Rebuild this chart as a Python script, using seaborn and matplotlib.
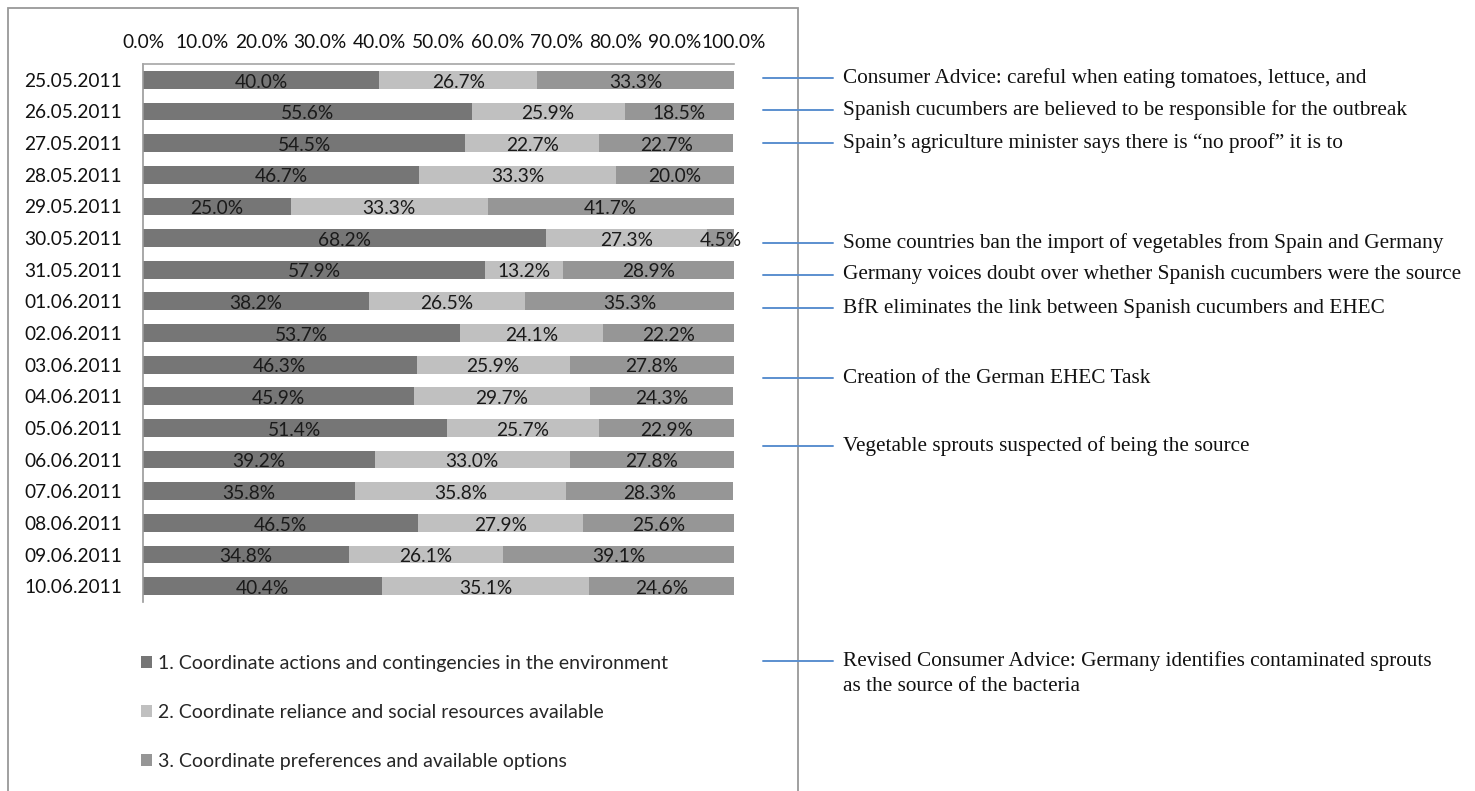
import matplotlib
matplotlib.use("Agg")
import matplotlib.pyplot as plt
import seaborn as sns
import pandas as pd
import numpy as np
from matplotlib.patches import Rectangle, Patch
from matplotlib.lines import Line2D

dates = ["25.05.2011", "26.05.2011", "27.05.2011", "28.05.2011", "29.05.2011",
         "30.05.2011", "31.05.2011", "01.06.2011", "02.06.2011", "03.06.2011",
         "04.06.2011", "05.06.2011", "06.06.2011", "07.06.2011", "08.06.2011",
         "09.06.2011", "10.06.2011"]
s1 = [40.0, 55.6, 54.5, 46.7, 25.0, 68.2, 57.9, 38.2, 53.7, 46.3, 45.9, 51.4, 39.2, 35.8, 46.5, 34.8, 40.4]
s2 = [26.7, 25.9, 22.7, 33.3, 33.3, 27.3, 13.2, 26.5, 24.1, 25.9, 29.7, 25.7, 33.0, 35.8, 27.9, 26.1, 35.1]
s3 = [33.3, 18.5, 22.7, 20.0, 41.7, 4.5, 28.9, 35.3, 22.2, 27.8, 24.3, 22.9, 27.8, 28.3, 25.6, 39.1, 24.6]
series_names = ["1. Coordinate actions and contingencies in the environment",
                "2. Coordinate reliance and social resources available",
                "3. Coordinate preferences and available options"]
colors = ["#767676", "#C0C0C0", "#969696"]
xticks = [0, 10, 20, 30, 40, 50, 60, 70, 80, 90, 100]

events = ["Consumer Advice: careful when eating tomatoes, lettuce, and",
          "Spanish cucumbers are believed to be responsible for the outbreak",
          "Spain\u2019s agriculture minister says there is \u201cno proof\u201d it is to",
          "Some countries ban the import of vegetables from Spain and Germany",
          "Germany voices doubt over whether Spanish cucumbers were the source",
          "BfR eliminates the link between Spanish cucumbers and EHEC",
          "Creation of the German EHEC Task",
          "Vegetable sprouts suspected of being the source",
          "Revised Consumer Advice: Germany identifies contaminated sprouts\nas the source of the bacteria"]
event_y_px = [78, 110, 143, 243, 275, 308, 378, 446, 661]

sns.set_theme(style="white")
plt.rcParams['font.family'] = ['Lato', 'DejaVu Sans']

FS = 13.8
W, H = 1475, 791
fig = plt.figure(figsize=(W / 100, H / 100), dpi=100)
ax = fig.add_axes([143 / W, 1 - 602 / H, (734 - 143) / W, (602 - 64) / H])

df = pd.DataFrame({"date": dates, "s1": s1, "s2": s2, "s3": s3})
df["c1"] = df["s1"]
df["c2"] = df["s1"] + df["s2"]
df["c3"] = df["s1"] + df["s2"] + df["s3"]

for col, color in zip(["c3", "c2", "c1"], [colors[2], colors[1], colors[0]]):
    sns.barplot(data=df, x=col, y="date", orient="h", color=color, width=0.56,
                saturation=1, ax=ax, linewidth=0)

ax.set_xlim(0, 100)
ax.set_ylim(len(dates) - 0.5, -0.5)
ax.xaxis.tick_top()
ax.set_xticks(xticks)
ax.set_xticklabels([f"{v:.1f}%" for v in xticks], fontsize=FS, color="#111111")
ax.tick_params(axis="x", length=0, pad=9)
ax.tick_params(axis="y", length=0, pad=15, labelsize=FS, labelcolor="#111111")
ax.set_xlabel("")
ax.set_ylabel("")
for sp in ["right", "bottom"]:
    ax.spines[sp].set_visible(False)
ax.spines["left"].set_color("#999999")
ax.spines["top"].set_color("#A6A6A6")
ax.spines["left"].set_linewidth(1.2)
ax.spines["top"].set_linewidth(1.2)

for i in range(len(dates)):
    lefts = [0, s1[i], s1[i] + s2[i]]
    for v, l in zip([s1[i], s2[i], s3[i]], lefts):
        ax.text(l + v / 2, i + 0.07, f"{v:.1f}%", ha="center", va="center",
                fontsize=FS, color="#1A1A1A")

handles = [Patch(facecolor=c, edgecolor="none") for c in colors]
fig.legend(handles, series_names, loc="upper left",
           bbox_to_anchor=(141 / W, 1 - 655 / H), frameon=False,
           fontsize=14, handlelength=0.55, handleheight=0.55, handletextpad=0.3,
           labelspacing=1.65, borderaxespad=0, borderpad=0)

# outer frame
fig.add_artist(Rectangle((8 / W, -0.01), (798 - 8) / W, 1 - 8 / H + 0.01,
                         transform=fig.transFigure, fill=False,
                         edgecolor="#999999", linewidth=1.3))

serif = ["Liberation Serif", "DejaVu Serif"]
for txt, yp in zip(events, event_y_px):
    yf = 1 - yp / H
    fig.add_artist(Line2D([763 / W, 833 / W], [yf, yf], transform=fig.transFigure,
                          color="#5B8FCF", linewidth=1.4))
    if "\n" in txt:
        fig.text(843 / W, 1 - (yp - 10) / H, txt, ha="left", va="top",
                 fontsize=15.3, family=serif, color="#111111", linespacing=1.45)
    else:
        fig.text(843 / W, yf, txt, ha="left", va="center",
                 fontsize=15.3, family=serif, color="#111111")

fig.savefig("out.png", dpi=100, facecolor="white")
